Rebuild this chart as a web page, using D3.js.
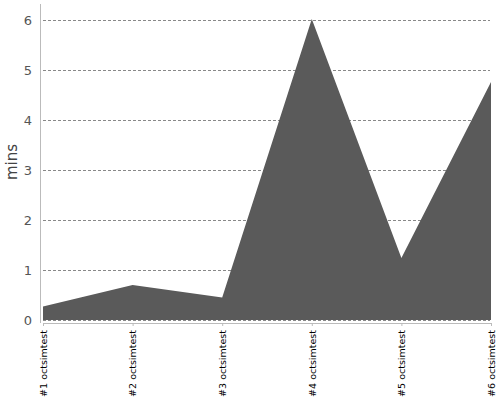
<!DOCTYPE html>
<html>
<head>
<meta charset="utf-8">
<script src="https://cdn.jsdelivr.net/npm/d3@7"></script>
<style>
  body { margin: 0; background: #fff; }
  svg { font-family: "DejaVu Sans", sans-serif; }
</style>
</head>
<body>
<svg id="chart" width="500" height="400"></svg>
<script>
var builds = ['#1 octsimtest', '#2 octsimtest', '#3 octsimtest', '#4 octsimtest', '#5 octsimtest', '#6 octsimtest'];
var minutes = [0.27, 0.7, 0.45, 6.02, 1.24, 4.76];
var yTicks = [0, 1, 2, 3, 4, 5, 6];

var svg = d3.select('#chart');
var plotLeft = 43, plotRight = 491, plotTop = 20, plotBottom = 320;

var x = d3.scalePoint().domain(builds).range([plotLeft, plotRight]);
var y = d3.scaleLinear().domain([0, 6]).range([plotBottom, plotTop]);

// grid
svg.append('g').selectAll('line').data(yTicks).enter()
  .append('line')
    .attr('x1', plotLeft).attr('x2', 490)
    .attr('y1', function(d) { return y(d) + 0.5; })
    .attr('y2', function(d) { return y(d) + 0.5; })
    .attr('stroke', '#888').attr('stroke-dasharray', '3,2')
;

// area
var area = d3.area()
  .x(function(d, i) { return x(builds[i]); })
  .y0(plotBottom)
  .y1(function(d) { return y(d); });

svg.append('path').datum(minutes)
  .attr('d', area)
  .attr('fill', '#5a5a5a');

// y axis
svg.append('line')
  .attr('x1', 40.5).attr('x2', 40.5).attr('y1', 4).attr('y2', 323)
  .attr('stroke', '#bbb');

svg.append('g').selectAll('text').data(yTicks).enter()
  .append('text')
    .attr('x', 32).attr('y', function(d) { return y(d); })
    .attr('dy', '0.35em').attr('text-anchor', 'end')
    .attr('font-size', 13).attr('fill', '#555')
    .text(function(d) { return d; })
;

svg.append('text')
  .attr('transform', 'translate(17,162) rotate(-90)')
  .attr('text-anchor', 'middle').attr('font-size', 15).attr('fill', '#444')
  .text('mins');

// x axis
var xAxis = d3.axisBottom(x).tickSize(3).tickPadding(4);
var gx = svg.append('g').attr('transform', 'translate(0,323)').call(xAxis);
gx.select('.domain').attr('stroke', '#bbb').attr('d', 'M' + plotLeft + ',0.5H' + plotRight);
gx.selectAll('.tick line').attr('stroke', '#bbb');
gx.selectAll('.tick text')
  .attr('transform', 'rotate(-90)')
  .attr('text-anchor', 'end')
  .attr('x', -7).attr('y', 0).attr('dy', '0.35em')
  .attr('font-size', 9.5).attr('fill', '#000')
  .attr('font-family', '"DejaVu Sans", sans-serif');
</script>
</body>
</html>
